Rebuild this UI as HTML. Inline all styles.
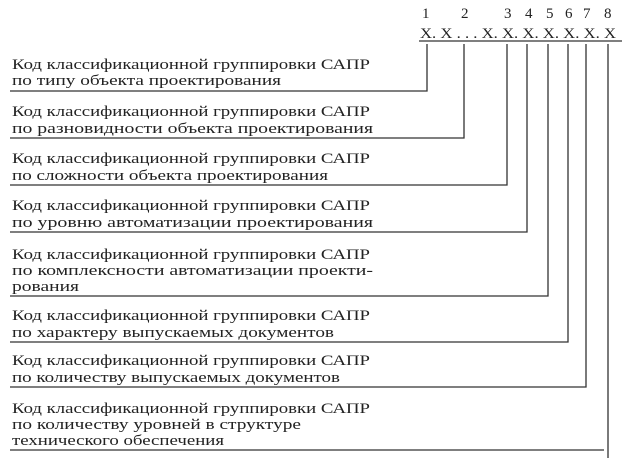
<!DOCTYPE html>
<html><head><meta charset="utf-8"><style>
html,body{margin:0;padding:0;background:#fff;}
svg{display:block;}
text{font-family:"Liberation Serif",serif;font-size:15px;fill:#222;}
</style></head><body>
<svg width="629" height="463" viewBox="0 0 629 463">
<g>
<text x="422" y="18">1</text><text x="461" y="18">2</text><text x="504" y="18">3</text><text x="525" y="18">4</text><text x="546" y="18">5</text><text x="565" y="18">6</text><text x="583" y="18">7</text><text x="604" y="18">8</text>
<text x="420" y="38" textLength="196" lengthAdjust="spacingAndGlyphs">X. X . . . X. X. X. X. X. X. X</text>
</g>
<g stroke="#333" stroke-width="1.3" fill="none">
<line x1="419" y1="41" x2="622" y2="41"/>
<polyline points="427,44 427,91 10,91"/>
<polyline points="464,44 464,138 10,138"/>
<polyline points="507,44 507,185 10,185"/>
<polyline points="527,44 527,232 10,232"/>
<polyline points="548,44 548,296 10,296"/>
<polyline points="568,44 568,342 10,342"/>
<polyline points="586,44 586,387 10,387"/>
<polyline points="608,44 608,458"/>
<line x1="10" y1="450" x2="604" y2="450"/>
</g>
<g>
<text x="12" y="69" textLength="358" lengthAdjust="spacingAndGlyphs">Код классификационной группировки САПР</text>
<text x="12" y="85" textLength="269" lengthAdjust="spacingAndGlyphs">по типу объекта проектирования</text>
<text x="12" y="116" textLength="358" lengthAdjust="spacingAndGlyphs">Код классификационной группировки САПР</text>
<text x="12" y="133" textLength="361" lengthAdjust="spacingAndGlyphs">по разновидности объекта  проектирования</text>
<text x="12" y="163" textLength="358" lengthAdjust="spacingAndGlyphs">Код классификационной группировки САПР</text>
<text x="12" y="180" textLength="316" lengthAdjust="spacingAndGlyphs">по сложности объекта проектирования</text>
<text x="12" y="210" textLength="358" lengthAdjust="spacingAndGlyphs">Код классификационной группировки САПР</text>
<text x="12" y="227" textLength="361" lengthAdjust="spacingAndGlyphs">по уровню автоматизации проектирования</text>
<text x="12" y="259" textLength="358" lengthAdjust="spacingAndGlyphs">Код классификационной группировки САПР</text>
<text x="12" y="275" textLength="361" lengthAdjust="spacingAndGlyphs">по комплексности автоматизации проекти-</text>
<text x="12" y="291" textLength="67" lengthAdjust="spacingAndGlyphs">рования</text>
<text x="12" y="320" textLength="358" lengthAdjust="spacingAndGlyphs">Код классификационной группировки САПР</text>
<text x="12" y="337" textLength="322" lengthAdjust="spacingAndGlyphs">по характеру выпускаемых документов</text>
<text x="12" y="365" textLength="358" lengthAdjust="spacingAndGlyphs">Код классификационной группировки САПР</text>
<text x="12" y="382" textLength="328" lengthAdjust="spacingAndGlyphs">по количеству выпускаемых документов</text>
<text x="12" y="413" textLength="358" lengthAdjust="spacingAndGlyphs">Код классификационной группировки САПР</text>
<text x="12" y="429" textLength="289" lengthAdjust="spacingAndGlyphs">по количеству уровней в структуре</text>
<text x="12" y="445" textLength="212" lengthAdjust="spacingAndGlyphs">технического обеспечения</text>
</g>
</svg>
</body></html>
